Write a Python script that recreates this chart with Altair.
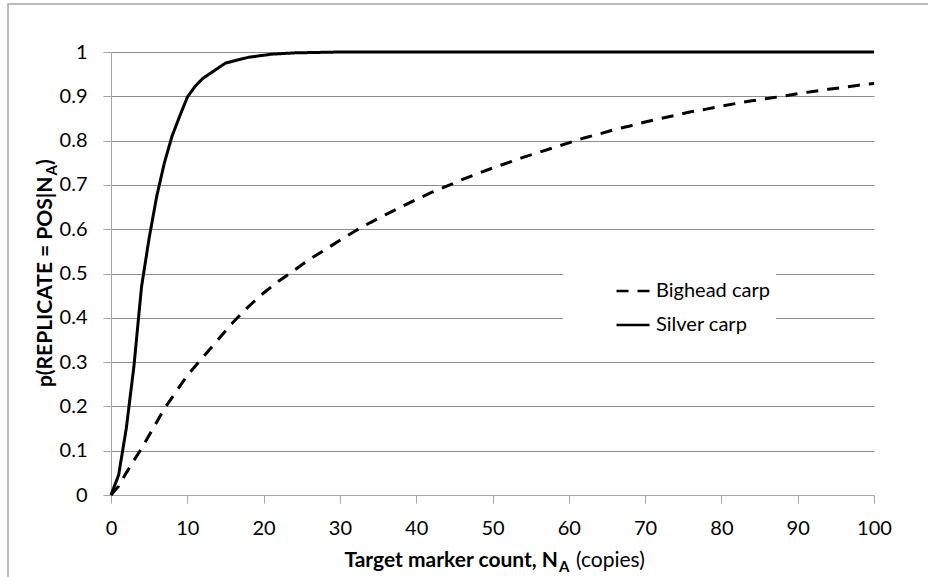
import altair as alt
import pandas as pd

# Detection probability of a positive replicate vs. target marker count
series_names = ["Bighead carp", "Silver carp"]

bighead_count = [0, 1, 2, 3, 4, 5, 6, 7, 8, 9, 10, 12, 14, 16, 18, 20, 22, 24, 26, 28,
                 30, 32, 34, 36, 38, 40, 42, 44, 46, 48, 50, 52, 54, 56, 58, 60, 62, 64,
                 66, 68, 70, 72, 74, 76, 78, 80, 82, 84, 86, 88, 90, 92, 94, 96, 98, 100]
bighead_p = [0.0, 0.02, 0.05, 0.078, 0.105, 0.135, 0.165, 0.195, 0.22, 0.245, 0.27, 0.31,
             0.35, 0.39, 0.425, 0.456, 0.483, 0.507, 0.532, 0.553, 0.575, 0.596, 0.615,
             0.633, 0.65, 0.667, 0.683, 0.697, 0.712, 0.725, 0.738, 0.75, 0.762, 0.773,
             0.784, 0.795, 0.806, 0.815, 0.825, 0.833, 0.842, 0.85, 0.857, 0.865, 0.871,
             0.878, 0.884, 0.89, 0.895, 0.9, 0.906, 0.911, 0.916, 0.92, 0.925, 0.929]

silver_count = [0, 1, 2, 3, 4, 5, 6, 7, 8, 9, 10, 11, 12, 15, 18, 21, 24, 27, 30, 40, 50,
                60, 70, 80, 90, 100]
silver_p = [0.0, 0.045, 0.15, 0.29, 0.47, 0.58, 0.675, 0.75, 0.81, 0.855, 0.898, 0.922,
            0.94, 0.975, 0.988, 0.995, 0.998, 0.999, 1.0, 1.0, 1.0, 1.0, 1.0, 1.0, 1.0, 1.0]

x_ticks = [0, 10, 20, 30, 40, 50, 60, 70, 80, 90, 100]
y_ticks = [0, 0.1, 0.2, 0.3, 0.4, 0.5, 0.6, 0.7, 0.8, 0.9, 1]

x_title_main, x_title_sub, x_title_tail = "Target marker count, N", "A", "(copies)"
y_title_main, y_title_sub, y_title_tail = "p(REPLICATE = POS|N", "A", ")"

rows = []
for name, xs, ps in [(series_names[0], bighead_count, bighead_p),
                     (series_names[1], silver_count, silver_p)]:
    for xv, pv in zip(xs, ps):
        rows.append({"count": xv, "p": pv, "series": name})
df = pd.DataFrame(rows)

FONT = "Lato"
W, H = 763, 443
AXIS_GRAY = "#a6a6a6"

curves = alt.Chart(df).mark_line(strokeWidth=3, color="black").encode(
    x=alt.X("count:Q", scale=alt.Scale(domain=[0, 100], nice=False),
            axis=alt.Axis(values=x_ticks, title=None, grid=False, labelPadding=15)),
    y=alt.Y("p:Q", scale=alt.Scale(domain=[0, 1], nice=False),
            axis=alt.Axis(values=y_ticks, title=None, grid=True, format="~g",
                          labelPadding=16)),
    strokeDash=alt.StrokeDash(
        "series:N",
        scale=alt.Scale(domain=series_names, range=[[12, 9], [1, 0]]),
        legend=alt.Legend(
            title="\u00a0", titleOrient="left", titlePadding=46, titleFontSize=20,
            orient="none", legendX=452, legendY=215,
            fillColor="white", padding=6, rowPadding=6,
            symbolType="stroke", symbolSize=1089, symbolStrokeWidth=2.5,
            symbolStrokeColor="black", labelFont=FONT, labelFontSize=20,
            labelColor="black", labelOffset=5, labelLimit=400,
        ),
    ),
)

one = alt.Data(values=[{}])

# light outer frame around the whole figure
frame = alt.Chart(one).mark_rect(filled=False, stroke=AXIS_GRAY, strokeWidth=1.5).encode(
    x=alt.value(-103), x2=alt.value(850), y=alt.value(-48), y2=alt.value(560)
)

def label(text, x, y, size=21, bold=True, align="left", angle=0):
    return alt.Chart(one).mark_text(
        text=text, font=FONT, fontSize=size, fontWeight="bold" if bold else "normal",
        align=align, baseline="alphabetic", angle=angle, color="black",
    ).encode(x=alt.value(x), y=alt.value(y))

# axis titles with a subscript A, assembled from pieces
x_title = [
    label(x_title_main, 447, 514.7, align="right"),
    label(x_title_sub, 448, 520, size=15),
    label(x_title_tail, 465, 514.7, bold=False),
]
y_title = [
    label(y_title_main, -59.3, 124.5, align="right", angle=270),
    label(y_title_sub, -54.5, 123.5, size=15, angle=270),
    label(y_title_tail, -59.3, 113, angle=270),
]

chart = alt.layer(frame, curves, *x_title, *y_title).properties(
    width=W, height=H,
    autosize=alt.AutoSizeParams(type="none"),
    padding={"left": 111, "top": 52, "right": 54, "bottom": 82},
).configure(background="white").configure_view(stroke="transparent").configure_axis(
    labelFont=FONT, labelFontSize=20, labelColor="black",
    domainColor=AXIS_GRAY, domainWidth=1, tickColor=AXIS_GRAY, tickSize=8, tickWidth=1,
    gridColor="#8c8c8c", gridWidth=1, labelFlush=False, labelOverlap=False,
)

chart.save("out.html", embed_options={"renderer": "svg", "actions": False})
